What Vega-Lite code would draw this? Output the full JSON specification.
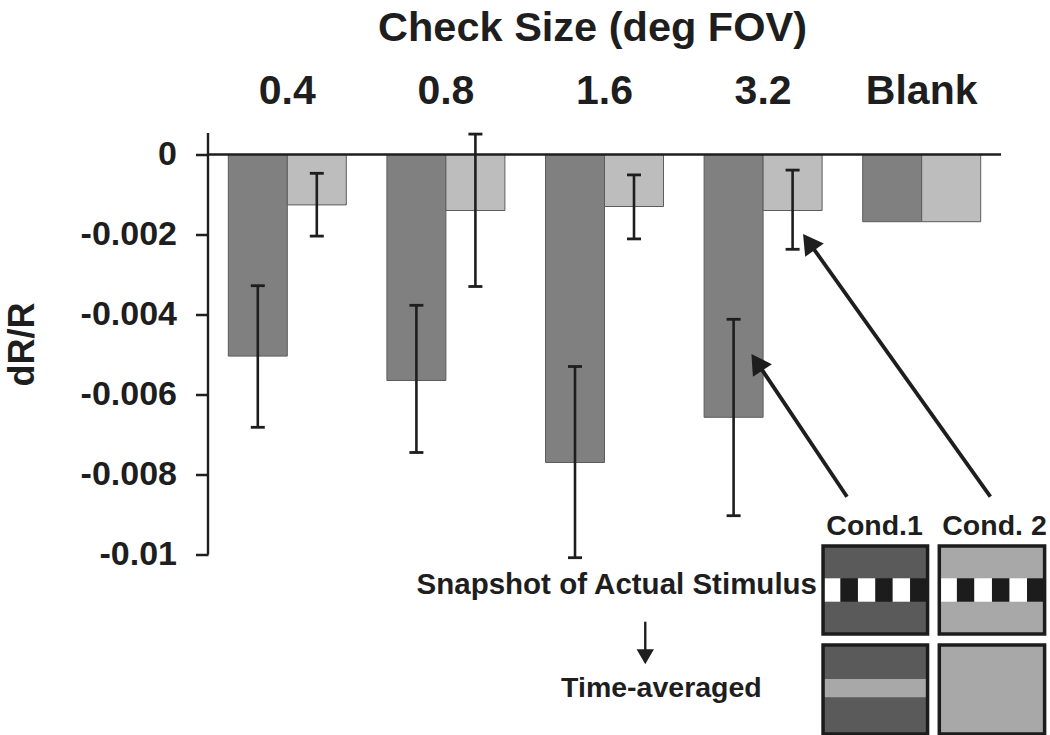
{
  "$schema": "https://vega.github.io/schema/vega-lite/v6.json",
  "autosize": {"type": "none"},
  "padding": {"left": 208, "top": 126.5, "right": 49, "bottom": 0},
  "width": 793,
  "height": 608,
  "background": "white",
  "config": {"view": {"stroke": null}, "font": "Liberation Sans"},
  "datasets": {
    "bars": [
      {"size": "0.4", "cond": "Cond. 1", "value": -0.00504, "lo": -0.00682, "hi": -0.00328},
      {"size": "0.4", "cond": "Cond. 2", "value": -0.00126, "lo": -0.00204, "hi": -0.00047},
      {"size": "0.8", "cond": "Cond. 1", "value": -0.00565, "lo": -0.00745, "hi": -0.00377},
      {"size": "0.8", "cond": "Cond. 2", "value": -0.0014, "lo": -0.0033, "hi": 0.00051},
      {"size": "1.6", "cond": "Cond. 1", "value": -0.0077, "lo": -0.01008, "hi": -0.0053},
      {"size": "1.6", "cond": "Cond. 2", "value": -0.0013, "lo": -0.00211, "hi": -0.00051},
      {"size": "3.2", "cond": "Cond. 1", "value": -0.00657, "lo": -0.00903, "hi": -0.00412},
      {"size": "3.2", "cond": "Cond. 2", "value": -0.0014, "lo": -0.00237, "hi": -0.00039},
      {"size": "Blank", "cond": "Cond. 1", "value": -0.00168, "lo": null, "hi": null},
      {"size": "Blank", "cond": "Cond. 2", "value": -0.00168, "lo": null, "hi": null}
    ]
  },
  "layer": [
    {
      "data": {"name": "bars"},
      "layer": [
        {
          "mark": {"type": "bar", "stroke": "#5c5c5c", "strokeWidth": 1},
          "encoding": {
            "x": {
              "field": "size", "type": "nominal",
              "sort": ["0.4", "0.8", "1.6", "3.2", "Blank"],
              "scale": {"paddingInner": 0.256, "paddingOuter": 0.128},
              "axis": {
                "orient": "top", "title": "Check Size (deg FOV)",
                "titleFontSize": 41.5, "titleFontWeight": "bold", "titleColor": "#1e1e1e",
                "titleX": 384, "titleY": -86, "titleBaseline": "alphabetic", "titleAlign": "center",
                "labelFontSize": 41, "labelFontWeight": "bold", "labelColor": "#1e1e1e",
                "labelAngle": 0, "labelPadding": 23.5, "labelBaseline": "alphabetic",
                "ticks": false, "tickSize": 0, "domain": false, "grid": false
              }
            },
            "xOffset": {"field": "cond", "type": "nominal", "scale": {"paddingInner": 0, "paddingOuter": 0}},
            "y": {
              "field": "value", "type": "quantitative",
              "scale": {"domain": [-0.0145, 0.0007], "nice": false, "zero": false},
              "axis": {
                "title": "dR/R",
                "values": [0, -0.002, -0.004, -0.006, -0.008, -0.01],
                "labelExpr": "datum.value == 0 ? '0' : '-' + format(-datum.value, '.3~f')",
                "domain": false, "grid": false,
                "tickSize": 12.5, "tickWidth": 2.5, "tickColor": "#1e1e1e",
                "labelFontSize": 34, "labelFontWeight": "bold", "labelColor": "#1e1e1e", "labelPadding": 19,
                "titleFontSize": 36, "titleFontWeight": "bold", "titleColor": "#1e1e1e",
                "titleX": -186, "titleY": 217.5, "titleBaseline": "middle", "titleAlign": "center"
              }
            },
            "color": {
              "field": "cond", "type": "nominal",
              "scale": {"domain": ["Cond. 1", "Cond. 2"], "range": ["#808080", "#bdbdbd"]},
              "legend": null
            }
          }
        },
        {
          "transform": [{"filter": "isValid(datum.lo)"}],
          "mark": {"type": "rule", "color": "#1e1e1e", "strokeWidth": 2.6},
          "encoding": {
            "x": {"field": "size", "type": "nominal", "sort": ["0.4", "0.8", "1.6", "3.2", "Blank"]},
            "xOffset": {"field": "cond", "type": "nominal"},
            "y": {"field": "lo", "type": "quantitative", "scale": {"domain": [-0.0145, 0.0007], "nice": false, "zero": false}},
            "y2": {"field": "hi"}
          }
        },
        {
          "transform": [{"filter": "isValid(datum.lo)"}],
          "mark": {"type": "tick", "orient": "horizontal", "color": "#1e1e1e", "thickness": 2.8, "size": 14, "opacity": 1},
          "encoding": {
            "x": {"field": "size", "type": "nominal", "sort": ["0.4", "0.8", "1.6", "3.2", "Blank"]},
            "xOffset": {"field": "cond", "type": "nominal"},
            "y": {"field": "lo", "type": "quantitative", "scale": {"domain": [-0.0145, 0.0007], "nice": false, "zero": false}}
          }
        },
        {
          "transform": [{"filter": "isValid(datum.hi)"}],
          "mark": {"type": "tick", "orient": "horizontal", "color": "#1e1e1e", "thickness": 2.8, "size": 14, "opacity": 1},
          "encoding": {
            "x": {"field": "size", "type": "nominal", "sort": ["0.4", "0.8", "1.6", "3.2", "Blank"]},
            "xOffset": {"field": "cond", "type": "nominal"},
            "y": {"field": "hi", "type": "quantitative", "scale": {"domain": [-0.0145, 0.0007], "nice": false, "zero": false}}
          }
        }
      ]
    },
    {
      "layer": [
        {
          "data": {"values": [
            {"x": 3.378, "x2": 4.037, "y": -0.00979, "y2": -0.01199, "tone": "dark"},
            {"x": 4.111, "x2": 4.775, "y": -0.00979, "y2": -0.01199, "tone": "light"},
            {"x": 3.378, "x2": 4.037, "y": -0.01226, "y2": -0.01449, "tone": "dark"},
            {"x": 4.111, "x2": 4.775, "y": -0.01226, "y2": -0.01449, "tone": "light"},
            {"x": 3.378, "x2": 4.037, "y": -0.01311, "y2": -0.01357, "tone": "light"},
            {"x": 3.378, "x2": 3.488, "y": -0.010595, "y2": -0.01118, "tone": "white"},
            {"x": 3.488, "x2": 3.598, "y": -0.010595, "y2": -0.01118, "tone": "black"},
            {"x": 3.598, "x2": 3.708, "y": -0.010595, "y2": -0.01118, "tone": "white"},
            {"x": 3.708, "x2": 3.817, "y": -0.010595, "y2": -0.01118, "tone": "black"},
            {"x": 3.817, "x2": 3.927, "y": -0.010595, "y2": -0.01118, "tone": "white"},
            {"x": 3.927, "x2": 4.037, "y": -0.010595, "y2": -0.01118, "tone": "black"},
            {"x": 4.111, "x2": 4.222, "y": -0.010595, "y2": -0.01118, "tone": "white"},
            {"x": 4.222, "x2": 4.332, "y": -0.010595, "y2": -0.01118, "tone": "black"},
            {"x": 4.332, "x2": 4.443, "y": -0.010595, "y2": -0.01118, "tone": "white"},
            {"x": 4.443, "x2": 4.554, "y": -0.010595, "y2": -0.01118, "tone": "black"},
            {"x": 4.554, "x2": 4.664, "y": -0.010595, "y2": -0.01118, "tone": "white"},
            {"x": 4.664, "x2": 4.775, "y": -0.010595, "y2": -0.01118, "tone": "black"}
          ]},
          "mark": {"type": "rect"},
          "encoding": {
            "x": {"field": "x", "type": "quantitative", "scale": {"domain": [-0.5, 4.5], "nice": false, "zero": false}, "axis": null},
            "x2": {"field": "x2"},
            "y": {"field": "y", "type": "quantitative", "scale": {"domain": [-0.0145, 0.0007], "nice": false, "zero": false}},
            "y2": {"field": "y2"},
            "color": {
              "field": "tone", "type": "nominal",
              "scale": {"domain": ["dark", "light", "white", "black"], "range": ["#5a5a5a", "#a8a8a8", "#ffffff", "#1c1c1c"]},
              "legend": null
            }
          }
        },
        {
          "data": {"values": [
            {"x": 3.378, "x2": 4.037, "y": -0.00979, "y2": -0.01199},
            {"x": 4.111, "x2": 4.775, "y": -0.00979, "y2": -0.01199},
            {"x": 3.378, "x2": 4.037, "y": -0.01226, "y2": -0.01449},
            {"x": 4.111, "x2": 4.775, "y": -0.01226, "y2": -0.01449}
          ]},
          "mark": {"type": "rect", "filled": false, "stroke": "#1c1c1c", "strokeWidth": 3.5},
          "encoding": {
            "x": {"field": "x", "type": "quantitative"},
            "x2": {"field": "x2"},
            "y": {"field": "y", "type": "quantitative", "scale": {"domain": [-0.0145, 0.0007], "nice": false, "zero": false}},
            "y2": {"field": "y2"}
          }
        },
        {
          "data": {"values": [
            {"x": -0.5, "x2": -0.5, "y": -0.01, "y2": 0.00054},
            {"x": -0.5, "x2": 4.5, "y": 0, "y2": 0},
            {"x": 2.257, "x2": 2.257, "y": -0.01168, "y2": -0.01255}
          ]},
          "mark": {"type": "rule", "color": "#1e1e1e", "strokeWidth": 2.4},
          "encoding": {
            "x": {"field": "x", "type": "quantitative"},
            "x2": {"field": "x2"},
            "y": {"field": "y", "type": "quantitative", "scale": {"domain": [-0.0145, 0.0007], "nice": false, "zero": false}},
            "y2": {"field": "y2"}
          }
        },
        {
          "data": {"values": [
            {"x": 3.529, "x2": 2.965, "y": -0.008555, "y2": -0.005215},
            {"x": 4.433, "x2": 3.292, "y": -0.008555, "y2": -0.00221}
          ]},
          "mark": {"type": "rule", "color": "#1e1e1e", "strokeWidth": 3.8},
          "encoding": {
            "x": {"field": "x", "type": "quantitative"},
            "x2": {"field": "x2"},
            "y": {"field": "y", "type": "quantitative", "scale": {"domain": [-0.0145, 0.0007], "nice": false, "zero": false}},
            "y2": {"field": "y2"}
          }
        },
        {
          "data": {"values": [{"x": 2.961, "y": -0.005195}]},
          "mark": {"type": "point", "shape": "triangle-up", "filled": true, "size": 520, "color": "#1e1e1e", "opacity": 1, "angle": 326.3},
          "encoding": {
            "x": {"field": "x", "type": "quantitative"},
            "y": {"field": "y", "type": "quantitative", "scale": {"domain": [-0.0145, 0.0007], "nice": false, "zero": false}}
          }
        },
        {
          "data": {"values": [{"x": 3.288, "y": -0.00219}]},
          "mark": {"type": "point", "shape": "triangle-up", "filled": true, "size": 520, "color": "#1e1e1e", "opacity": 1, "angle": 324.6},
          "encoding": {
            "x": {"field": "x", "type": "quantitative"},
            "y": {"field": "y", "type": "quantitative", "scale": {"domain": [-0.0145, 0.0007], "nice": false, "zero": false}}
          }
        },
        {
          "data": {"values": [{"x": 2.257, "y": -0.012555}]},
          "mark": {"type": "point", "shape": "triangle-down", "filled": true, "size": 300, "color": "#1e1e1e", "opacity": 1},
          "encoding": {
            "x": {"field": "x", "type": "quantitative"},
            "y": {"field": "y", "type": "quantitative", "scale": {"domain": [-0.0145, 0.0007], "nice": false, "zero": false}}
          }
        },
        {
          "data": {"values": [{"x": 3.34, "y": -0.010988, "label": "Snapshot of Actual Stimulus"}]},
          "mark": {"type": "text", "align": "right", "baseline": "alphabetic", "fontSize": 29.5, "fontWeight": "bold", "color": "#1e1e1e"},
          "encoding": {
            "x": {"field": "x", "type": "quantitative"},
            "y": {"field": "y", "type": "quantitative", "scale": {"domain": [-0.0145, 0.0007], "nice": false, "zero": false}},
            "text": {"field": "label"}
          }
        },
        {
          "data": {"values": [
            {"x": 2.359, "y": -0.01355, "label": "Time-averaged"},
            {"x": 3.703, "y": -0.0095125, "label": "Cond.1"},
            {"x": 4.459, "y": -0.0095125, "label": "Cond. 2"}
          ]},
          "mark": {"type": "text", "align": "center", "baseline": "alphabetic", "fontSize": 28.5, "fontWeight": "bold", "color": "#1e1e1e"},
          "encoding": {
            "x": {"field": "x", "type": "quantitative"},
            "y": {"field": "y", "type": "quantitative", "scale": {"domain": [-0.0145, 0.0007], "nice": false, "zero": false}},
            "text": {"field": "label"}
          }
        }
      ]
    }
  ],
  "resolve": {"scale": {"x": "independent", "color": "independent"}}
}
